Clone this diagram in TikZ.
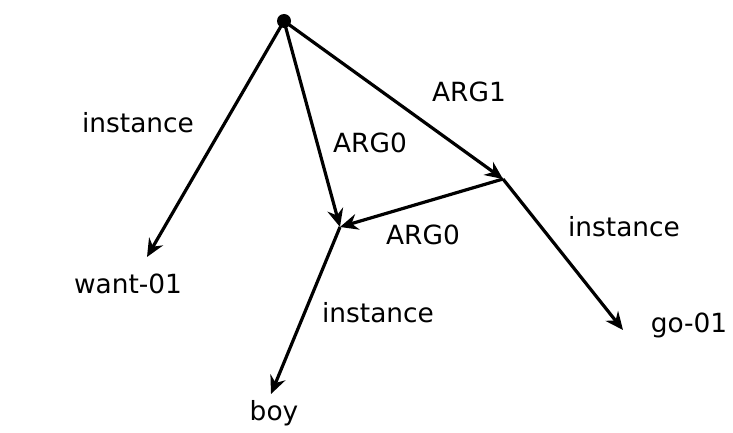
\documentclass[tikz,border=0pt]{standalone}
\usepackage{fontspec}
\setmainfont{DejaVu Sans}
\usetikzlibrary{arrows.meta}
\begin{document}
\begin{tikzpicture}[x=0.5pt,y=-0.5pt,
  edge/.style={line width=1.6pt,-{Stealth[length=9pt,width=8pt,inset=3pt]}},
  lbl/.style={inner sep=0pt,font=\fontsize{13.2pt}{15pt}\selectfont},
  root/.style={circle,fill=black,inner sep=0pt,minimum size=7pt}]
\useasboundingbox (0,0) rectangle (733,433);
\node[root] (r) at (284,21) {};
\coordinate (vb) at (340,227);
\coordinate (vg) at (503,179);
\coordinate (wt) at (147,257);
\coordinate (bt) at (271,394);
\coordinate (gt) at (623,330);
\node[lbl] (want) at (128,284) {want-01};
\node[lbl] (boy) at (274,413) {boy};
\node[lbl] (go) at (689,325) {go-01};
\draw[edge] (r.center) -- (wt);
\draw[edge] (r.center) -- (vb);
\draw[edge] (r.center) -- (vg);
\draw[edge] (vg) -- (vb);
\draw[edge] (vb) -- (bt);
\draw[edge] (vg) -- (gt);
\node[lbl] (l1) at (138,123) {instance};
\node[lbl] (l2) at (370,143) {ARG0};
\node[lbl] (l3) at (469,92) {ARG1};
\node[lbl] (l4) at (423,235) {ARG0};
\node[lbl] (l5) at (624,227) {instance};
\node[lbl] (l6) at (378,313) {instance};
\end{tikzpicture}
\end{document}
